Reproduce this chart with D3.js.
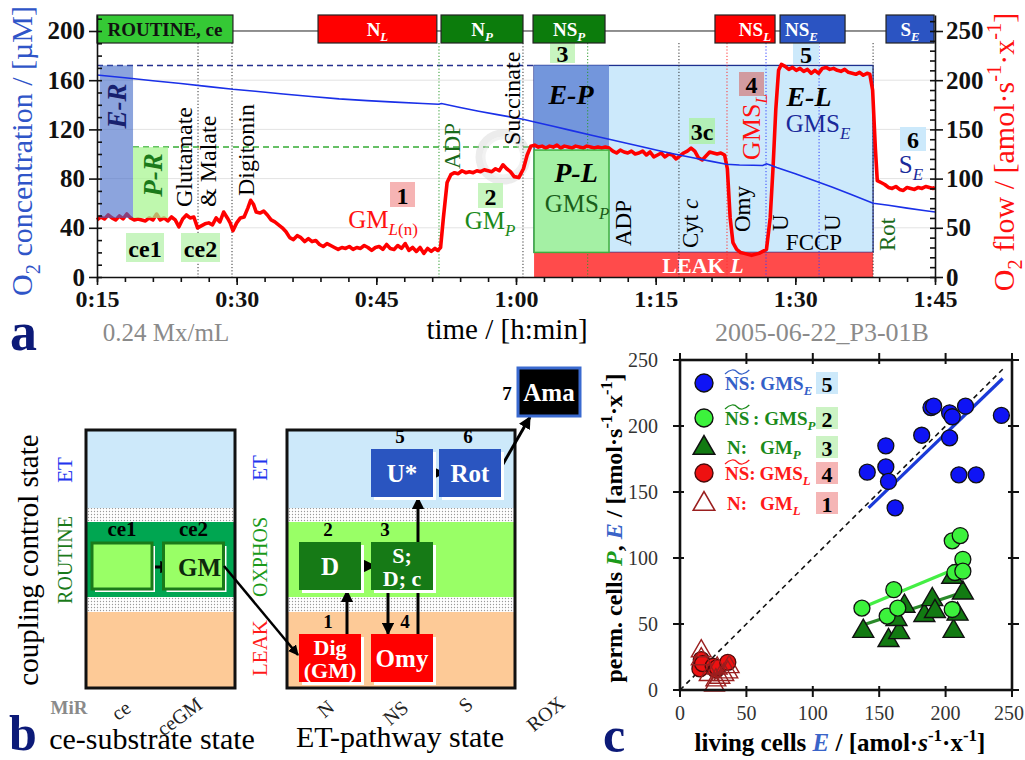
<!DOCTYPE html>
<html><head><meta charset="utf-8">
<script src="https://cdn.jsdelivr.net/npm/d3@7"></script>
<style>body{margin:0;background:#fff}svg{display:block}</style>
</head><body>
<svg id="fig" width="1025" height="760"></svg>
<script>
// ---------------- data: respirometry trace (panel a) ----------------
const timeTicks = [15, 30, 45, 60, 75, 90, 105];          // minutes
const o2Ticks = [0, 40, 80, 120, 160, 200];              // µM
const flowTicks = [0, 50, 100, 150, 200, 250];           // amol·s-1·x-1

// O2 concentration [time (min), µM]
const o2Trace = [
  [15,164.2],[18,162],[21,159.6],[24,157.3],[27,154.8],[29.6,152.6],[32,151],[35,148.8],[38,146.8],
  [41,144.8],[44,143.4],[47,142.2],[50,141],[51.7,140.4],[52,141],[54,137.8],[56,134.8],[58,132],
  [60.75,128.2],[62,126],[64,122.5],[66,119],[68,115.5],[70,112],[72,108.5],[74,105],[75.5,102.5],
  [77,100],[79,97],[81,94],[82.6,91.6],[84,91],[85.5,90.8],[86.5,90.6],[86.9,92],[87.3,91],[88,89],
  [90,84],[92,78.5],[94,73],[96,67],[98.35,60],[100,58.3],[102,56],[104,53.8],[105,52.8]
];

// O2 flow [time (min), amol·s-1·x-1]
const flowTrace = [
  [15,58],[15.4,61],[15.8,59],[16.2,63],[16.6,60],[17,58],[17.4,62],[17.8,59],[18.2,64],[18.6,60],
  [19,58],[19.4,59],[19.8,58],[20.2,57],[20.6,60],[21,58],[21.4,64],[21.8,58],[22.2,60],[22.6,57],
  [23,61],[23.4,58],[23.8,51],[24.2,59],[24.6,63],[25,60],[25.4,61],[25.8,50],[26.2,52],[26.6,54],
  [27,55],[27.4,53],[27.8,60],[28.2,56],[28.6,66],[29,60],[29.3,55],[29.6,47],[30,55],[30.4,60],
  [30.8,61],[31.2,70],[31.5,78],[31.8,74],[32.1,66],[32.5,65],[32.9,67],[33.3,63],[33.7,58],[34.1,56],
  [34.5,53],[34.9,50],[35.3,46],[35.7,40],[36.1,38],[36.5,42],[36.9,40],[37.3,36],[37.7,39],[38.1,36],
  [38.5,37],[38.9,33],[39.3,31],[39.7,34],[40.1,32],[40.5,30],[40.9,28],[41.3,30],[41.7,29],[42.1,31],
  [42.5,28],[42.9,30],[43.3,29],[43.7,32],[44.1,30],[44.5,27],[44.9,30],[45.3,31],[45.7,28],[46.1,33],
  [46.5,29],[46.9,28],[47.3,32],[47.7,29],[48.1,34],[48.5,27],[48.9,30],[49.3,26],[49.7,30],[50.1,24],
  [50.5,29],[50.9,26],[51.3,29],[51.6,27],[51.9,30],[52.2,60],[52.6,96],[53,104],[53.4,106],[53.8,105],
  [54.2,108],[54.6,106],[55,107],[55.4,106],[55.8,108],[56.2,107],[56.6,109],[57,108],[57.4,107],[57.8,110],
  [58.2,108],[58.6,114],[59,110],[59.4,107],[59.8,102],[60.3,101],[60.8,110],[61.2,124],[61.6,133],[62,134],
  [62.4,132],[62.8,133],[63.2,131],[63.6,133],[64,132],[64.4,134],[64.8,131],[65.2,133],[65.6,132],[66,131],
  [66.4,133],[66.8,132],[67.2,131],[67.6,133],[68,132],[68.4,131],[68.8,132],[69.2,131],[69.6,132],[70,131],
  [70.4,128],[70.8,126],[71.2,129],[71.6,127],[72,126],[72.4,128],[72.8,125],[73.2,126],[73.6,128],[74,124],
  [74.4,127],[74.8,122],[75.2,124],[75.6,126],[76,122],[76.4,125],[76.8,124],[77.2,120],[77.6,123],[78,126],
  [78.4,128],[78.8,131],[79.2,128],[79.6,121],[80,119],[80.4,123],[80.8,127],[81.2,126],[81.6,125],[82,126],
  [82.4,124],[82.7,110],[83,60],[83.3,35],[83.7,28],[84.1,25],[84.5,24],[84.9,23],[85.3,22],[85.7,23],
  [86.1,24],[86.5,26],[86.9,28],[87.3,60],[87.6,110],[87.9,170],[88.2,210],[88.5,216],[88.9,214],[89.3,211],
  [89.7,213],[90.1,210],[90.5,212],[90.9,209],[91.3,211],[91.7,207],[92.1,210],[92.5,207],[92.9,212],[93.3,213],
  [93.7,211],[94.1,212],[94.5,210],[94.9,209],[95.3,211],[95.7,208],[96.1,207],[96.5,206],[96.9,208],[97.3,205],
  [97.7,207],[98,206],[98.3,190],[98.6,130],[98.8,98],[99.2,96],[99.6,94],[100,91],[100.4,90],[100.8,92],
  [101.2,89],[101.6,88],[102,91],[102.4,90],[102.8,89],[103.2,91],[103.6,90],[104,92],[104.4,91],[104.8,90],[105,91]
];

// coupling/pathway states of the protocol (time windows, min)
const stateBars = [
  {name:[["ROUTINE, ce"]], t0:15, t1:29.6, kind:"routine"},
  {name:[["N"],["L","sub i"]], t0:38.74, t1:51.5, kind:"leak"},
  {name:[["N"],["P","sub i"]], t0:51.95, t1:60.75, kind:"oxphos"},
  {name:[["NS"],["P","sub i"]], t0:61.83, t1:69.56, kind:"oxphos"},
  {name:[["NS"],["L","sub i"]], t0:81.37, t1:87.82, kind:"leak"},
  {name:[["NS"],["E","sub i"]], t0:88.36, t1:95.34, kind:"et"},
  {name:[["S"],["E","sub i"]], t0:99.74, t1:104.9, kind:"et"}
];

// titration events (min) and their type
const eventTime = [25.85, 29.5, 51.73, 60.75, 67.7, 77.5, 82.66, 86.85, 92.55, 98.35];
const eventKind = ["sub","sub","adp","sub","adp","sub","omy","unc","unc","sub"];

// flux levels and windows used for the control-ratio boxes
const levelRoutine = 60, levelET = 215, levelOxphos = 132, levelLeak = 25, levelPL = 129;
const winER = [15.3, 18.87], winPR = [18.87, 22.63], winEP = [61.94, 69.99], winEL = [61.94, 98.35];

// ---------------- data: cells scatter (panel c) ----------------
const scatterTicks = [0, 50, 100, 150, 200, 250];
const nsGMSe = [[141,165],[155,185],[155,169],[157,158],[162,138],[182,193],[189,214],[191,215],[203,210],[205,207],[203,191],[210,163],[215,215],[223,163],[242,208]];
const nsGMSp = [[137,62],[161,76],[156,56],[164,62],[205,61],[205,113],[211,117],[213,99],[207,89],[213,90]];
const nGMp   = [[138,46],[157,39],[165,45],[169,65],[163,55],[184,58],[190,70],[192,61],[206,46],[213,75],[209,59],[205,87]];
const nsGMSl = [[15,16],[16,23],[17,20],[25,18],[27,15],[28,17],[36,21]];
const nGMl   = [[16,31],[16,25],[22,13],[26,5],[27,9],[30,11],[33,13],[36,15],[37,19],[28,18]];
const fitE   = [[142,138],[243,236]];
const fitNSP = [[141,64],[208,92]];
const fitNP  = [[140,50],[213,74]];

// ---------------- data: protocol diagram (panel b) ----------------
const ceSteps = [{id:"ce1", col:"ce", label:[]}, {id:"ce2", col:"ceGM", label:["GM"]}];
const etSteps = [
  {n:1, label:["Dig","(GM)"], col:"N",   row:"LEAK",   kind:"leak"},
  {n:2, label:["D"],          col:"N",   row:"OXPHOS", kind:"oxphos"},
  {n:3, label:["S;","D; c"],  col:"NS",  row:"OXPHOS", kind:"oxphos"},
  {n:4, label:["Omy"],        col:"NS",  row:"LEAK",   kind:"leak"},
  {n:5, label:["U*"],         col:"NS",  row:"ET",     kind:"et"},
  {n:6, label:["Rot"],        col:"S",   row:"ET",     kind:"et"},
  {n:7, label:["Ama"],        col:"ROX", row:"ROX",    kind:"rox"}
];
const ceAxis = ["ce","ceGM"];
const etAxis = ["N","NS","S","ROX"];

// ====================================================================
const F = '"Liberation Serif","Times New Roman",serif';
const svg = d3.select("#fig");
svg.append("rect").attr("width",1025).attr("height",760).attr("fill","#fff");
const defs = svg.append("defs");

function rich(sel, parts, fs){
  let cur = 0;
  parts.forEach(p => {
    const txt = p[0], f = (p[1]||"").split(" ");
    const ts = sel.append("tspan").text(txt);
    let tgt = 0;
    if (f.includes("sub")) tgt = fs*0.26;
    if (f.includes("sup")) tgt = -fs*0.42;
    if (tgt !== cur) ts.attr("dy", tgt-cur);
    cur = tgt;
    if (f.includes("sub")||f.includes("sup")) ts.attr("font-size", fs*0.68);
    if (f.includes("i")) ts.attr("font-style","italic");
    if (f.includes("b")) ts.attr("font-weight","bold");
    const col = f.find(s => s.startsWith("#"));
    if (col) ts.attr("fill", col);
  });
  return sel;
}
function label(g, x, y, parts, o={}){
  const fs = o.fs||20;
  const t = g.append("text").attr("x",x).attr("y",y).attr("font-family",F).attr("font-size",fs)
    .attr("text-anchor",o.anchor||"middle").attr("fill",o.fill||"#000");
  if (o.bold) t.attr("font-weight","bold");
  if (o.italic) t.attr("font-style","italic");
  if (o.rot) t.attr("transform",`rotate(${o.rot},${x},${y})`);
  if (o.db) t.attr("dominant-baseline",o.db);
  rich(t, typeof parts === "string" ? [[parts]] : parts, fs);
  return t;
}
function tag(g, x0, y0, w, h, txt, bg, fs){
  g.append("rect").attr("x",x0).attr("y",y0).attr("width",w).attr("height",h).attr("fill",bg);
  label(g, x0+w/2, y0+h/2+1, txt, {fs:fs||24, bold:true, db:"central"});
}

// ---------------- panel a ----------------
const xT  = d3.scaleLinear().domain([15,105]).range([97,935]);
const yO2 = d3.scaleLinear().domain([0,213]).range([277,15]);
const yJ  = d3.scaleLinear().domain([0,266.25]).range([277,15]);
const A = svg.append("g");

A.selectAll("line.grid").data(o2Ticks.filter(d => d>0 && d<200)).join("line")
  .attr("x1",xT(15)).attr("x2",xT(105)).attr("y1",d=>yO2(d)).attr("y2",d=>yO2(d))
  .attr("stroke","#e3e3e3").attr("stroke-width",1);

function box(g, win, lo, hi, sc){
  return g.append("rect").attr("x",xT(win[0])).attr("width",xT(win[1])-xT(win[0]))
    .attr("y",sc(hi)).attr("height",sc(lo)-sc(hi));
}
box(A, winEL, levelLeak, levelET, yJ).attr("fill","#cce9fb").attr("stroke","#1d2f8f").attr("stroke-width",1.3);
box(A, winEL, 0, levelLeak, yJ).attr("fill","#ff4b4b");
box(A, winEP, levelOxphos, levelET, yJ).attr("fill","#7396dc");

A.append("line").attr("x1",xT(15)).attr("x2",xT(winEL[0])).attr("y1",yJ(levelET)).attr("y2",yJ(levelET))
  .attr("stroke","#25308f").attr("stroke-width",1.5).attr("stroke-dasharray","6,4");
A.append("line").attr("x1",xT(winPR[0])).attr("x2",xT(winEL[0])).attr("y1",yJ(levelOxphos)).attr("y2",yJ(levelOxphos))
  .attr("stroke","#33aa33").attr("stroke-width",1.5).attr("stroke-dasharray","6,4");

const evColor = {sub:"#333", adp:"#2a9a2a", omy:"#ff3030", unc:"#3040ff"};
A.selectAll("line.ev").data(eventTime).join("line")
  .attr("x1",d=>xT(d)).attr("x2",d=>xT(d)).attr("y1",43).attr("y2",277)
  .attr("stroke",(d,i)=>evColor[eventKind[i]]).attr("stroke-width",1).attr("stroke-dasharray","1.2,2");

// faint ring mark
A.append("circle").attr("cx",503).attr("cy",157).attr("r",24).attr("fill","none")
  .attr("stroke","#c8c8c8").attr("stroke-width",7).attr("opacity",0.35);
A.append("circle").attr("cx",503).attr("cy",157).attr("r",19).attr("fill","none")
  .attr("stroke","#e6e6e6").attr("stroke-width",3).attr("opacity",0.5);

const flowLine = d3.line().x(d=>xT(d[0])).y(d=>yJ(d[1]));
A.append("path").datum(flowTrace).attr("d",flowLine).attr("fill","none")
  .attr("stroke","#ff0000").attr("stroke-width",3.6).attr("stroke-linejoin","round");

box(A, winER, levelRoutine, levelET, yJ).attr("fill","#3f68c6").attr("opacity",0.6);
box(A, winPR, levelRoutine, levelOxphos, yJ).attr("fill","#a6f58f").attr("opacity",0.72);
box(A, winEP, levelLeak, levelPL, yJ).attr("fill","#a4f0a4").attr("stroke","#3fae3f").attr("stroke-width",1.5);

const o2Line = d3.line().x(d=>xT(d[0])).y(d=>yO2(d[1]));
A.append("path").datum(o2Trace).attr("d",o2Line).attr("fill","none")
  .attr("stroke","#1a30e8").attr("stroke-width",1.6);

// annotations inside the trace
label(A,117,106,[["E-R"]],{fs:27,bold:true,italic:true,fill:"#17206e",rot:-90,db:"central"});
label(A,153,175,[["P-R"]],{fs:27,bold:true,italic:true,fill:"#1a7a1a",rot:-90,db:"central"});
tag(A,126,233,38,29,"ce1","#c8f5c0",24);
tag(A,181,233,39,29,"ce2","#c8f5c0",24);
label(A,192,207,"Glutamate",{fs:24,rot:-90,anchor:"start"});
label(A,216,207,"& Malate",{fs:24,rot:-90,anchor:"start"});
label(A,254,196,"Digitonin",{fs:24,rot:-90,anchor:"start"});
tag(A,390,182,25,25,"1","#f6b4b4",24);
label(A,383,228,[["GM"],["L","sub i"],["(n)","sub"]],{fs:25,fill:"#ff1010"});
label(A,460,169,"ADP",{fs:23,rot:-90,anchor:"start",fill:"#1a6a1a"});
tag(A,478,183,25,25,"2","#c8f5c0",24);
label(A,490,229,[["GM"],["P","sub i"]],{fs:25,fill:"#1a8a1a"});
label(A,520,145,"Succinate",{fs:24,rot:-90,anchor:"start"});
tag(A,550,43,25,20,"3","#c8f5c0",24);
label(A,571,104,[["E-P"]],{fs:28,bold:true,italic:true});
label(A,576,182,[["P-L"]],{fs:28,bold:true,italic:true});
label(A,577,212,[["GMS"],["P","sub i"]],{fs:25,fill:"#1a5e1a"});
label(A,631,246,"ADP",{fs:23,rot:-90,anchor:"start"});
tag(A,689,118,26,26,"3c","#b2efb6",24);
label(A,698,248,[["Cyt "],["c","i"]],{fs:23,rot:-90,anchor:"start"});
tag(A,739,72,25,24,"4","#d19ba0",24);
label(A,760,160,[["GMS"],["L","sub i"]],{fs:26,fill:"#ff1010",rot:-90,anchor:"start"});
label(A,750,232,"Omy",{fs:23,rot:-90,anchor:"start"});
label(A,788,231,"U",{fs:23,rot:-90,anchor:"start"});
label(A,840,231,"U",{fs:23,rot:-90,anchor:"start"});
label(A,814,250,"FCCP",{fs:23});
tag(A,793,43,26,21,"5","#cce9fb",24);
label(A,809,106,[["E-L"]],{fs:28,bold:true,italic:true});
label(A,818,132,[["GMS"],["E","sub i"]],{fs:25,fill:"#1a2a9a"});
label(A,895,251,"Rot",{fs:23,rot:-90,anchor:"start",fill:"#1a6a1a"});
tag(A,900,127,26,24,"6","#cce9fb",24);
label(A,911,173,[["S"],["E","sub i"]],{fs:25,fill:"#1a2a9a"});
label(A,703,273,[["LEAK "],["L","i"]],{fs:22,bold:true,fill:"#fff"});

// state bars along the top
const barFill = {routine:"#35c935", leak:"#ff0000", oxphos:"#0c7c0c", et:"#2b54c2"};
const barInk  = {routine:"#111", leak:"#fff", oxphos:"#fff", et:"#fff"};
const barAlign = ["middle","middle","middle","middle","end","start","middle"];
A.append("line").attr("x1",xT(15)).attr("x2",xT(105)).attr("y1",yO2(200)).attr("y2",yO2(200)).attr("stroke","#222");
stateBars.forEach((b,i) => {
  const x0 = xT(b.t0), x1 = xT(b.t1), al = barAlign[i];
  A.append("rect").attr("x",x0).attr("y",15).attr("width",x1-x0).attr("height",28)
    .attr("fill",barFill[b.kind]).attr("stroke","#222").attr("stroke-width",1.2);
  const tx = al==="end" ? x1-4 : al==="start" ? x0+5 : (x0+x1)/2;
  label(A,tx,36,b.name,{fs:19,bold:true,fill:barInk[b.kind],anchor:al});
});

// axes
function styleAxis(g, fs, bold){
  g.selectAll("text").attr("font-family",F).attr("font-size",fs).attr("font-weight",bold?"bold":"normal").attr("fill","#111");
  g.selectAll("line,path").attr("stroke","#111").attr("stroke-width",1.6);
}
const fmtT = d => Math.floor(d/60)+":"+String(d%60).padStart(2,"0");
A.append("g").attr("transform","translate(0,277)")
  .call(d3.axisBottom(xT).tickValues(d3.range(15,106,3)).tickSize(5).tickFormat(""))
  .call(g=>g.select(".domain").remove()).call(g=>styleAxis(g,24,true));
A.append("g").attr("transform","translate(0,277)")
  .call(d3.axisBottom(xT).tickValues(timeTicks).tickSize(8).tickSizeOuter(0).tickPadding(5).tickFormat(fmtT))
  .call(g=>styleAxis(g,24,true));
A.append("g").attr("transform","translate(97,0)")
  .call(d3.axisLeft(yO2).tickValues(d3.range(0,211,10)).tickSize(-5).tickFormat(""))
  .call(g=>g.select(".domain").remove()).call(g=>styleAxis(g,24,true));
A.append("g").attr("transform","translate(97,0)")
  .call(d3.axisLeft(yO2).tickValues(o2Ticks).tickSize(8).tickSizeOuter(0).tickPadding(4))
  .call(g=>styleAxis(g,25,true));
A.append("g").attr("transform","translate(935,0)")
  .call(d3.axisRight(yJ).tickValues(d3.range(0,261,10)).tickSize(-5).tickFormat(""))
  .call(g=>g.select(".domain").remove()).call(g=>styleAxis(g,24,true));
A.append("g").attr("transform","translate(935,0)")
  .call(d3.axisRight(yJ).tickValues(flowTicks).tickSize(8).tickSizeOuter(0).tickPadding(3))
  .call(g=>styleAxis(g,25,true));

label(A,32,151,[["O"],["2","sub"],[" concentration / [µM]"]],{fs:30,fill:"#2f55c8",rot:-90});
label(A,1014,152,[["O"],["2","sub"],[" flow / [amol·s"],["-1","sup"],["·x"],["-1","sup"],["]"]],{fs:30,fill:"#ff1010",rot:-90});
label(A,507,339,"time / [h:min]",{fs:29});
label(A,166,341,"0.24 Mx/mL",{fs:25,fill:"#8a8a8a"});
label(A,822,341,"2005-06-22_P3-01B",{fs:26,fill:"#8a8a8a"});
label(A,10,350,"a",{fs:54,bold:true,fill:"#0c1a78",anchor:"start"});

// ---------------- panel b ----------------
const B = svg.append("g");
const pat = defs.append("pattern").attr("id","dots").attr("width",3).attr("height",3).attr("patternUnits","userSpaceOnUse");
pat.append("rect").attr("width",3).attr("height",3).attr("fill","#fff");
pat.append("circle").attr("cx",1.5).attr("cy",1.5).attr("r",0.65).attr("fill","#9a9a9a");
defs.append("marker").attr("id","arr").attr("viewBox","0 0 10 10").attr("refX",9).attr("refY",5)
  .attr("markerWidth",4.2).attr("markerHeight",4.2).attr("orient","auto")
  .append("path").attr("d","M0,0L10,5L0,10z").attr("fill","#000");

const bands = [[430,508,"et"],[508,522,"dots"],[522,597,"mid"],[597,612,"dots"],[612,688,"leak"]];
function stateFrame(x0, x1, midFill){
  const fills = {et:"#cde9fa", dots:"url(#dots)", mid:midFill, leak:"#fdca97"};
  bands.forEach(b => B.append("rect").attr("x",x0).attr("y",b[0]).attr("width",x1-x0).attr("height",b[1]-b[0]).attr("fill",fills[b[2]]));
  B.append("rect").attr("x",x0).attr("y",430).attr("width",x1-x0).attr("height",258).attr("fill","none").attr("stroke","#111").attr("stroke-width",3);
}
stateFrame(86, 235, "#00a651");
stateFrame(287, 515, "#99ff66");

const ceX = d3.scaleOrdinal().domain(ceAxis).range([122, 193.5]);
const colX = d3.scaleOrdinal().domain(etAxis).range([330, 402, 470, 549]);
const rowY = d3.scaleOrdinal().domain(["ROX","ET","OXPHOS","LEAK"]).range([392, 473, 566, 658]);
const bw = 62, bh = 48;

function arrow(x1,y1,x2,y2,w){
  B.append("line").attr("x1",x1).attr("y1",y1).attr("x2",x2).attr("y2",y2)
    .attr("stroke","#000").attr("stroke-width",w||3).attr("marker-end","url(#arr)");
}
// ce-substrate steps
arrow(ceX("ce")+31, 567, ceX("ceGM")-22, 567, 3);
ceSteps.forEach(s => {
  const cx = ceX(s.col), cy = 566;
  B.append("rect").attr("x",cx-30+3).attr("y",cy-23+3).attr("width",60).attr("height",46).attr("fill","#fff");
  B.append("rect").attr("x",cx-30).attr("y",cy-23).attr("width",60).attr("height",46)
    .attr("fill","#99ff66").attr("stroke","#1a7a1a").attr("stroke-width",3);
  label(B,cx,cy-30,s.id,{fs:21,bold:true});
  if (s.label.length) label(B,cx+6,cy+1,s.label[0],{fs:25,bold:true,fill:"#0d2a0d",db:"central"});
});
// link from ce states to pathway protocol
arrow(224, 566, colX("N")-bw/2-1, rowY("LEAK")-3, 2.5);

// pathway links (drawn under the boxes)
const boxOf = n => etSteps.find(s => s.n===n);
const bx = s => colX(s.col), by = s => rowY(s.row);
arrow(bx(boxOf(1))+17, by(boxOf(1))-bh/2, bx(boxOf(1))+17, by(boxOf(2))+bh/2+1);
arrow(bx(boxOf(2))+bw/2, by(boxOf(2)), bx(boxOf(3))-bw/2+4, by(boxOf(3)));
arrow(bx(boxOf(3))-14, by(boxOf(3))+bh/2, bx(boxOf(3))-14, by(boxOf(4))-bh/2);
arrow(bx(boxOf(4))+16, by(boxOf(4))-bh/2, bx(boxOf(4))+16, by(boxOf(5))+bh/2+1);
arrow(bx(boxOf(5))+bw/2, by(boxOf(5)), bx(boxOf(6))-bw/2+5, by(boxOf(6)));
arrow(bx(boxOf(6))+bw/2-2, by(boxOf(6))-2, bx(boxOf(7))-bw/2+12, by(boxOf(7))+bh/2+1);

const stepFill = {leak:"#ff0000", oxphos:"#167a16", et:"#2a55c0", rox:"#000"};
const numShift = {1:-2, 2:-2, 3:-17, 4:3, 5:-2, 6:-2};
etSteps.forEach(s => {
  const cx = bx(s), cy = by(s);
  if (s.kind!=="rox") B.append("rect").attr("x",cx-bw/2+3).attr("y",cy-bh/2+3).attr("width",bw).attr("height",bh).attr("fill","#fff");
  const r = B.append("rect").attr("x",cx-bw/2).attr("y",cy-bh/2).attr("width",bw).attr("height",bh).attr("fill",stepFill[s.kind]);
  if (s.kind==="rox") r.attr("stroke","#3a6ad0").attr("stroke-width",3);
  const fs = s.label.length>1 ? 22 : 25;
  s.label.forEach((t,k) => label(B,cx,cy+(k-(s.label.length-1)/2)*23,t,{fs:fs,bold:true,fill:"#fff",db:"central"}));
  if (s.kind==="rox") label(B,cx-bw/2-11,cy+1,String(s.n),{fs:19,bold:true,db:"central"});
  else label(B,cx+numShift[s.n],cy-bh/2-6,String(s.n),{fs:19,bold:true});
});

label(B,38,560,"coupling control state",{fs:29,rot:-90});
label(B,72,470,"ET",{fs:21,rot:-90,fill:"#2233ee"});
label(B,72,560,"ROUTINE",{fs:20,rot:-90,fill:"#1a7a1a"});
label(B,267,468,"ET",{fs:21,rot:-90,fill:"#2233ee"});
label(B,267,557,"OXPHOS",{fs:20,rot:-90,fill:"#1a9a1a"});
label(B,267,648,"LEAK",{fs:21,rot:-90,fill:"#ff1a1a"});
label(B,69,714,"MiR",{fs:19,bold:true,fill:"#8a8a8a"});
ceAxis.forEach((c,i) => label(B,ceX(c)+(i?-10:3),716+(i?6:0),c,{fs:20,rot:-36,fill:"#222"}));
const etTickShift = {N:[0,0],NS:[-2,4],S:[0,-4],ROX:[1,5]};
etAxis.forEach(c => label(B,colX(c)+etTickShift[c][0],714+etTickShift[c][1],c,{fs:20,rot:-40,fill:"#222"}));
label(B,152,749,"ce-substrate state",{fs:30});
label(B,400,747,"ET-pathway state",{fs:30});
label(B,9,750,"b",{fs:50,bold:true,fill:"#0c1a78",anchor:"start"});

// ---------------- panel c ----------------
const C = svg.append("g");
const xE = d3.scaleLinear().domain([0,250]).range([680,1012]);
const yP = d3.scaleLinear().domain([0,250]).range([690,360]);
C.append("rect").attr("x",680).attr("y",360).attr("width",332).attr("height",330).attr("fill","#fff");
const tickLen = 7;
scatterTicks.forEach(v => {
  [[xE(v),690,xE(v),690+tickLen],[xE(v),360,xE(v),360-tickLen],[680,yP(v),680-tickLen,yP(v)],[1012,yP(v),1012+tickLen,yP(v)],
   [xE(v),690,xE(v),686],[xE(v),360,xE(v),364],[680,yP(v),684,yP(v)],[1012,yP(v),1008,yP(v)]]
  .forEach(l => C.append("line").attr("x1",l[0]).attr("y1",l[1]).attr("x2",l[2]).attr("y2",l[3]).attr("stroke","#111").attr("stroke-width",2));
  label(C,xE(v)-(v===250?3:0),720,String(v),{fs:20,fill:"#333"});
  label(C,658,yP(v),String(v),{fs:20,fill:"#333",anchor:"end",db:"central"});
});
C.append("line").attr("x1",xE(0)).attr("y1",yP(0)).attr("x2",xE(245)).attr("y2",yP(245))
  .attr("stroke","#111").attr("stroke-width",1.6).attr("stroke-dasharray","5,4");
function fit(pts, col){
  C.append("line").attr("x1",xE(pts[0][0])).attr("y1",yP(pts[0][1])).attr("x2",xE(pts[1][0])).attr("y2",yP(pts[1][1]))
    .attr("stroke",col).attr("stroke-width",3.2);
}
fit(fitNP,"#2a8a2a"); fit(fitNSP,"#44ee44");
const tri = d3.symbol().type(d3.symbolTriangle);
function tris(data, fill, stroke, size){
  C.selectAll(null).data(data).join("path").attr("d",tri.size(size)())
    .attr("transform",d=>`translate(${xE(d[0])},${yP(d[1])+2})`).attr("fill",fill).attr("stroke",stroke).attr("stroke-width",1.4);
}
function dots(data, fill, stroke){
  C.selectAll(null).data(data).join("circle").attr("cx",d=>xE(d[0])).attr("cy",d=>yP(d[1])).attr("r",8)
    .attr("fill",fill).attr("stroke",stroke).attr("stroke-width",1.3);
}
tris(nGMp,"#127a12","#111",190);
dots(nsGMSp,"#3cf23c","#111");
fit(fitE,"#1a3ad8");
dots(nsGMSe,"#0f14f5","#111");
dots(nsGMSl,"#ee1111","#4a0a0a");
tris(nGMl,"none","#9a1f1f",170);
C.append("rect").attr("x",680).attr("y",360).attr("width",332).attr("height",330).attr("fill","none").attr("stroke","#111").attr("stroke-width",2.6);

// legend
const legend = [
  {mark:"circle", fill:"#0f14f5", stroke:"#111", ns:true, txt:[[": GMS"],["E","sub i"]], col:"#3460c8", num:"5", bg:"#cde9fa", y:383},
  {mark:"circle", fill:"#3cf23c", stroke:"#111", ns:true, txt:[["\u2009: GMS"],["P","sub i"]], col:"#1a8a1a", num:"2", bg:"#ccf3c4", y:418},
  {mark:"tri", fill:"#127a12", stroke:"#111", ns:false, txt:[["GM"],["P","sub i"]], col:"#1a8a1a", num:"3", bg:"#ccf3c4", y:447},
  {mark:"circle", fill:"#ee1111", stroke:"#4a0a0a", ns:true, txt:[[":\u2009GMS"],["L","sub i"]], col:"#ff1a1a", num:"4", bg:"#f5b5b5", y:473},
  {mark:"tri", fill:"none", stroke:"#9a1f1f", ns:false, txt:[["GM"],["L","sub i"]], col:"#ff1a1a", num:"1", bg:"#f5b5b5", y:503}
];
legend.forEach(e => {
  if (e.mark==="circle") C.append("circle").attr("cx",704).attr("cy",e.y).attr("r",9).attr("fill",e.fill).attr("stroke",e.stroke).attr("stroke-width",1.4);
  else C.append("path").attr("d",tri.size(200)()).attr("transform",`translate(704,${e.y+1})`).attr("fill",e.fill).attr("stroke",e.stroke).attr("stroke-width",1.6);
  if (e.ns){
    const t = label(C,725,e.y+7,[["NS"]].concat(e.txt),{fs:19,bold:true,fill:e.col,anchor:"start"});
    const w = t.node().getSubStringLength(0,2), y0 = e.y-10;
    C.append("path").attr("d",`M725,${y0+1} C${725+w*0.2},${y0-4} ${725+w*0.4},${y0-4} ${725+w*0.5},${y0-1} C${725+w*0.6},${y0+2} ${725+w*0.8},${y0+2} ${725+w},${y0-3}`)
      .attr("fill","none").attr("stroke",e.col).attr("stroke-width",1.2);
  } else {
    label(C,727,e.y+7,"N:",{fs:19,bold:true,fill:e.col,anchor:"start"});
    label(C,760,e.y+7,e.txt,{fs:19,bold:true,fill:e.col,anchor:"start"});
  }
  tag(C,816,e.y-11,22,22,e.num,e.bg,22);
});

label(C,622,528,[["perm. cells "],["P","i #1a9a1a"],[", "],["E","i #3a64c8"],[" / [amol·s"],["-1","sup"],["·x"],["-1","sup"],["]"]],{fs:24,bold:true,rot:-90});
label(C,840,751,[["living cells "],["E","i #3a64c8"],[" / [amol·"],["s","i"],["-1","sup"],["·x"],["-1","sup"],["]"]],{fs:25,bold:true});
label(C,603,752,"c",{fs:50,bold:true,fill:"#0c1a78",anchor:"start"});
</script>
</body></html>
